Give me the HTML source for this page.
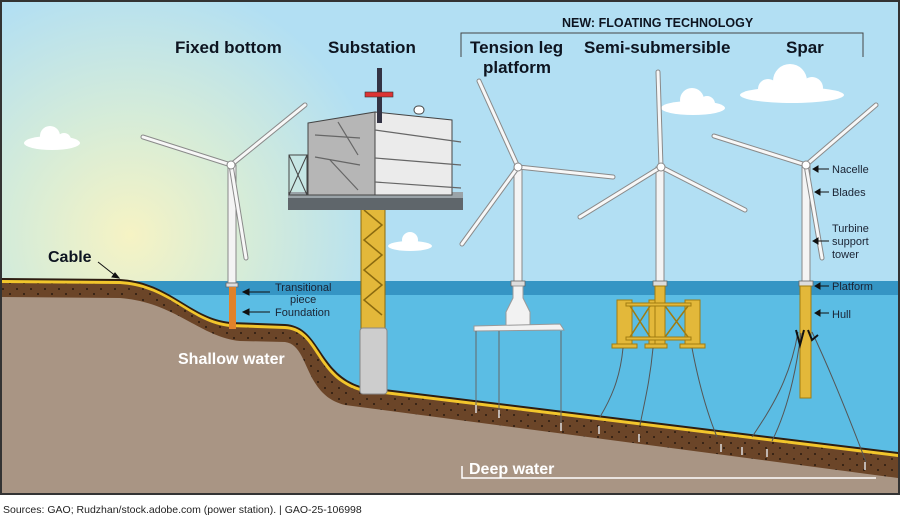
<!DOCTYPE html>
<html><head><meta charset="utf-8"><style>
html,body{margin:0;padding:0;background:#fff;}
svg{display:block;font-family:"Liberation Sans",Arial,sans-serif;}
</style></head><body>
<svg width="900" height="521" viewBox="0 0 900 521" xmlns="http://www.w3.org/2000/svg">
<defs>
<radialGradient id="sun" cx="130" cy="235" r="260" gradientUnits="userSpaceOnUse">
<stop offset="0" stop-color="#f6f3c4"/><stop offset="0.45" stop-color="#d6ecd8"/><stop offset="1" stop-color="#b2dff3"/>
</radialGradient>
<pattern id="dots" width="14" height="11" patternUnits="userSpaceOnUse">
<rect width="14" height="11" fill="#6b4528"/><circle cx="3" cy="3" r="1" fill="#2a1a10"/><circle cx="10" cy="8" r="1" fill="#2a1a10"/>
</pattern>
</defs>
<rect x="0" y="0" width="900" height="521" fill="#fff"/>
<rect x="1" y="1" width="898" height="493" fill="url(#sun)" stroke="#333" stroke-width="2"/>
<!-- clouds -->
<g fill="#fff">
<ellipse cx="52" cy="143" rx="28" ry="7"/><circle cx="50" cy="136" r="10"/><circle cx="64" cy="140" r="7"/>
<ellipse cx="693" cy="108" rx="32" ry="7"/><circle cx="692" cy="100" r="12"/><circle cx="707" cy="104" r="8"/>
<ellipse cx="792" cy="95" rx="52" ry="8"/><circle cx="790" cy="81" r="17"/><circle cx="812" cy="88" r="11"/><circle cx="768" cy="89" r="10"/>
<ellipse cx="410" cy="246" rx="22" ry="5"/><circle cx="410" cy="240" r="8"/>
</g>
<!-- sea -->
<rect x="2" y="281" width="896" height="212" fill="#5bbde4"/>
<rect x="2" y="281" width="896" height="14" fill="#3595c4"/>
<!-- ground -->
<path d="M2 278 L120 279 C170 282 190 318 230 322 L285 324 C320 326 318 372 360 386 L898 452 L898 493 L2 493 Z" fill="#2e1e12"/>
<path d="M2 280 L120 281 C170 284 190 320 230 324 L285 326 C320 328 316 374 360 388 L898 454 L898 493 L2 493 Z" fill="#f2c62c"/>
<path d="M2 283 L120 284 C170 287 190 323 230 327 L285 329 C318 331 314 377 360 391 L898 457 L898 493 L2 493 Z" fill="url(#dots)"/>
<path d="M2 297 L120 298 C175 302 200 337 240 341 L285 342 C310 345 303 395 345 405 L898 478 L898 493 L2 493 Z" fill="#a99584"/>
<!-- Fixed bottom turbine -->
<rect x="228" y="165" width="8" height="118" fill="#f4f4f4" stroke="#888" stroke-width="1"/>
<rect x="226" y="283" width="12" height="4" fill="#ddd" stroke="#666" stroke-width="0.8"/>
<rect x="229" y="287" width="7" height="42" fill="#e0822a"/>
<g stroke-linecap="round">
<g stroke="#8a8a8a" stroke-width="5"><line x1="231" y1="165" x2="143" y2="137"/><line x1="231" y1="165" x2="305" y2="105"/><line x1="231" y1="165" x2="246" y2="258"/></g>
<g stroke="#f7f7f7" stroke-width="3"><line x1="231" y1="165" x2="143" y2="137"/><line x1="231" y1="165" x2="305" y2="105"/><line x1="231" y1="165" x2="246" y2="258"/></g>
</g>
<circle cx="231" cy="165" r="4" fill="#fff" stroke="#888"/>
<!-- substation -->
<rect x="361" y="205" width="24" height="125" fill="#e3b83a" stroke="#8a6a10" stroke-width="1"/>
<path d="M364 210 L382 225 L364 240 L382 255 L364 270 L382 285 L364 300 L382 315" stroke="#8a6a10" fill="none" stroke-width="1.5"/>
<rect x="360" y="328" width="27" height="66" rx="3" fill="#cdcdcd" stroke="#888"/>
<rect x="325" y="200" width="100" height="8" fill="#e3b83a"/>
<rect x="288" y="195" width="175" height="15" fill="#5f666b"/>
<rect x="288" y="192" width="175" height="6" fill="#9aa3a8"/>
<rect x="289" y="155" width="18" height="40" fill="none" stroke="#444"/>
<path d="M289 155 L307 195 M307 155 L289 195" stroke="#444"/>
<polygon points="308,123 375,112 375,195 308,195" fill="#b6b6b6" stroke="#444"/>
<polygon points="375,112 452,120 452,195 375,195" fill="#ebebeb" stroke="#444"/>
<g stroke="#666" stroke-width="1.2"><line x1="338" y1="122" x2="358" y2="155"/><line x1="330" y1="160" x2="358" y2="190"/><line x1="315" y1="135" x2="360" y2="138"/><line x1="315" y1="157" x2="360" y2="165"/><line x1="375" y1="130" x2="461" y2="142"/><line x1="375" y1="158" x2="461" y2="165"/><line x1="375" y1="182" x2="461" y2="188"/></g>
<rect x="377" y="68" width="5" height="55" fill="#334"/>
<rect x="365" y="92" width="28" height="5" fill="#d33" stroke="#333" stroke-width="0.6"/>
<rect x="414" y="106" width="10" height="8" rx="4" fill="#fff" stroke="#444"/>
<!-- TLP turbine -->
<rect x="514" y="168" width="8" height="115" fill="#f4f4f4" stroke="#888"/>
<rect x="511" y="281" width="14" height="5" fill="#ddd" stroke="#666" stroke-width="0.8"/>
<polygon points="513,286 523,286 523,298 530,312 530,328 506,328 506,312 513,298" fill="#f2f2f2" stroke="#999"/>
<polygon points="474,326 560,324 564,330 474,331" fill="#f2f2f2" stroke="#999"/>
<g stroke="#666" stroke-width="1"><line x1="476" y1="331" x2="476" y2="406"/><line x1="499" y1="331" x2="499" y2="411"/><line x1="561" y1="331" x2="561" y2="423"/></g>
<g stroke-linecap="round">
<g stroke="#8a8a8a" stroke-width="5"><line x1="518" y1="167" x2="479" y2="81"/><line x1="518" y1="167" x2="613" y2="177"/><line x1="518" y1="167" x2="462" y2="244"/></g>
<g stroke="#f7f7f7" stroke-width="3"><line x1="518" y1="167" x2="479" y2="81"/><line x1="518" y1="167" x2="613" y2="177"/><line x1="518" y1="167" x2="462" y2="244"/></g>
</g>
<circle cx="518" cy="167" r="4" fill="#fff" stroke="#888"/>
<!-- Semi-sub -->
<rect x="656" y="167" width="8" height="116" fill="#f4f4f4" stroke="#888"/>
<rect x="653" y="281" width="14" height="5" fill="#ddd" stroke="#666" stroke-width="0.8"/>
<g fill="#e3b83a" stroke="#a07c10" stroke-width="1">
<rect x="617" y="300" width="15" height="45"/><rect x="649" y="300" width="15" height="45"/><rect x="685" y="300" width="15" height="45"/>
<rect x="655" y="286" width="10" height="60"/>
<rect x="612" y="344" width="25" height="4"/><rect x="645" y="344" width="22" height="4"/><rect x="680" y="344" width="25" height="4"/>
<rect x="626" y="303" width="65" height="3"/><rect x="626" y="337" width="65" height="3"/>
</g>
<path d="M630 306 L650 337 M650 306 L630 337 M665 306 L688 337 M688 306 L665 337" stroke="#a07c10" stroke-width="1.5"/>
<g stroke="#555" fill="none" stroke-width="1"><path d="M623 348 C620 380 610 400 600 417"/><path d="M653 348 C650 380 645 400 640 425"/><path d="M692 348 C700 390 710 420 717 437"/></g>
<g stroke-linecap="round">
<g stroke="#8a8a8a" stroke-width="5"><line x1="661" y1="167" x2="658" y2="72"/><line x1="661" y1="167" x2="580" y2="217"/><line x1="661" y1="167" x2="745" y2="210"/></g>
<g stroke="#f7f7f7" stroke-width="3"><line x1="661" y1="167" x2="658" y2="72"/><line x1="661" y1="167" x2="580" y2="217"/><line x1="661" y1="167" x2="745" y2="210"/></g>
</g>
<circle cx="661" cy="167" r="4" fill="#fff" stroke="#888"/>
<!-- Spar -->
<rect x="802" y="165" width="8" height="118" fill="#f4f4f4" stroke="#888"/>
<rect x="799" y="281" width="14" height="5" fill="#ddd" stroke="#666" stroke-width="0.8"/>
<rect x="800" y="286" width="11" height="112" fill="#e3b83a" stroke="#a07c10"/>
<g stroke="#555" fill="none" stroke-width="1"><path d="M798 332 C790 380 770 410 752 437"/><path d="M801 333 C795 380 785 415 772 441"/><path d="M812 332 C830 370 850 420 866 462"/></g>
<path d="M796 330 L800 345 L804 330 M808 330 L812 340 L818 335" stroke="#111" stroke-width="2" fill="none"/>
<g stroke-linecap="round">
<g stroke="#8a8a8a" stroke-width="5"><line x1="806" y1="165" x2="714" y2="136"/><line x1="806" y1="165" x2="876" y2="105"/><line x1="806" y1="165" x2="822" y2="258"/></g>
<g stroke="#f7f7f7" stroke-width="3"><line x1="806" y1="165" x2="714" y2="136"/><line x1="806" y1="165" x2="876" y2="105"/><line x1="806" y1="165" x2="822" y2="258"/></g>
</g>
<circle cx="806" cy="165" r="4" fill="#fff" stroke="#888"/>
<!-- anchors -->
<g stroke="#ddd" stroke-width="1.5"><line x1="476" y1="405" x2="476" y2="413"/><line x1="499" y1="410" x2="499" y2="418"/><line x1="561" y1="423" x2="561" y2="431"/><line x1="599" y1="426" x2="599" y2="434"/><line x1="639" y1="434" x2="639" y2="442"/><line x1="721" y1="444" x2="721" y2="452"/><line x1="742" y1="447" x2="742" y2="455"/><line x1="767" y1="449" x2="767" y2="457"/><line x1="865" y1="462" x2="865" y2="470"/></g>
<!-- labels & arrows -->
<g font-size="11" fill="#1a2333">
<text x="275" y="291">Transitional</text><text x="290" y="303">piece</text><text x="275" y="316">Foundation</text>
<text x="832" y="173">Nacelle</text><text x="832" y="196">Blades</text>
<text x="832" y="232">Turbine</text><text x="832" y="245">support</text><text x="832" y="258">tower</text>
<text x="832" y="290">Platform</text><text x="832" y="318">Hull</text>
</g>
<g stroke="#111" stroke-width="1" fill="#111">
<line x1="245" y1="292" x2="270" y2="292"/><polygon points="243,292 249,289 249,295"/>
<line x1="245" y1="312" x2="270" y2="312"/><polygon points="243,312 249,309 249,315"/>
<line x1="815" y1="169" x2="829" y2="169"/><polygon points="813,169 818,166 818,172"/>
<line x1="817" y1="192" x2="829" y2="192"/><polygon points="815,192 820,189 820,195"/>
<line x1="815" y1="241" x2="829" y2="241"/><polygon points="813,241 818,238 818,244"/>
<line x1="817" y1="286" x2="829" y2="286"/><polygon points="815,286 820,283 820,289"/>
<line x1="817" y1="313" x2="829" y2="313"/><polygon points="815,313 820,310 820,316"/>
<line x1="98" y1="262" x2="117" y2="277"/><polygon points="119,278 112,277 115,273"/>
</g>
<g font-weight="bold" fill="#0d1420">
<text x="175" y="53" font-size="17">Fixed bottom</text>
<text x="328" y="53" font-size="17">Substation</text>
<text x="470" y="53" font-size="17">Tension leg</text>
<text x="483" y="73" font-size="17">platform</text>
<text x="584" y="53" font-size="17">Semi-submersible</text>
<text x="786" y="53" font-size="17">Spar</text>
<text x="562" y="27" font-size="12.5">NEW: FLOATING TECHNOLOGY</text>
<text x="48" y="262" font-size="16">Cable</text>
</g>
<path d="M461 57 L461 33 L863 33 L863 57" stroke="#444" fill="none" stroke-width="1"/>
<text x="178" y="364" font-size="16" font-weight="bold" fill="#fff">Shallow water</text>
<text x="469" y="474" font-size="16" font-weight="bold" fill="#fff">Deep water</text>
<path d="M462 466 L462 478 L876 478" stroke="#fff" stroke-width="1.5" fill="none"/>
<text x="3" y="513" font-size="10.5" fill="#222">Sources: GAO; Rudzhan/stock.adobe.com (power station).  |  GAO-25-106998</text>
</svg>
</body></html>
